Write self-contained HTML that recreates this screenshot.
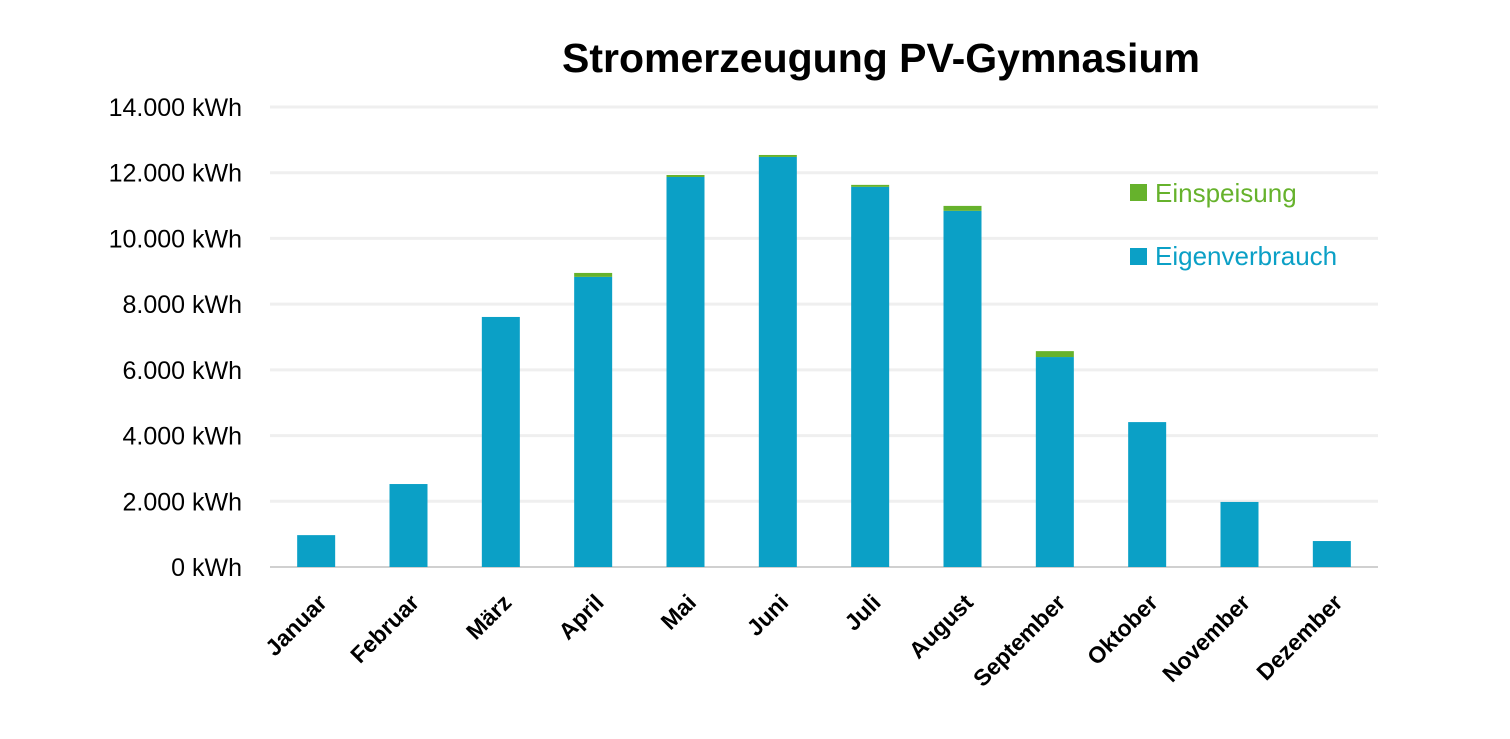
<!DOCTYPE html>
<html><head><meta charset="utf-8"><style>
html,body{margin:0;padding:0;background:#fff;}
svg{display:block;font-family:"Liberation Sans",sans-serif;}
</style></head><body>
<svg id="chart" width="1510" height="739" viewBox="0 0 1510 739">
<text x="881" y="72" text-anchor="middle" font-size="41" font-weight="bold" fill="#000">Stromerzeugung PV-Gymnasium</text>
<g id="grid"></g><g id="bars"></g><g id="xlabels"></g>
<g>
<rect x="1130" y="184" width="17" height="17" fill="#66b22c"/>
<text x="1155" y="202" font-size="26" fill="#66b22c">Einspeisung</text>
<rect x="1130" y="248" width="17" height="17" fill="#0ba0c6"/>
<text x="1155" y="265" font-size="26" fill="#0ba0c6">Eigenverbrauch</text>
</g>
</svg>
<script>
const categories=["Januar","Februar","März","April","Mai","Juni","Juli","August","September","Oktober","November","Dezember"];
const eigenverbrauch=[970,2525,7610,8830,11870,12480,11570,10840,6390,4410,1980,790];
const einspeisung=[0,0,0,120,60,60,60,150,180,0,0,0];
const yTicks=[0,2000,4000,6000,8000,10000,12000,14000];
const yTickLabels=["0 kWh","2.000 kWh","4.000 kWh","6.000 kWh","8.000 kWh","10.000 kWh","12.000 kWh","14.000 kWh"];
const NS="http://www.w3.org/2000/svg";
const x0=270,x1=1378,y0=567,y1=107,yMax=14000;
const y=v=>y0-(v/yMax)*(y0-y1);
const band=(x1-x0)/categories.length;
const xc=i=>x0+band*(i+0.5);
const bw=38;
function mk(t,a,p){const e=document.createElementNS(NS,t);for(const k in a)e.setAttribute(k,a[k]);p.appendChild(e);return e;}
const grid=document.getElementById('grid');
yTicks.forEach((v,i)=>{
  const l=mk('line',{x1:x0,x2:x1,y1:y(v),y2:y(v),stroke:i===0?'#d0d0d0':'#efefef','stroke-width':i===0?2:3},grid);
  
  
  const t=mk('text',{x:242,y:y(v)+9,'text-anchor':'end','font-size':25,fill:'#000'},grid);
  t.textContent=yTickLabels[i];
  
  
});
const bars=document.getElementById('bars');
const xl=document.getElementById('xlabels');
categories.forEach((c,i)=>{
  const cx=xc(i);
  const b=mk('rect',{x:cx-bw/2,y:y(eigenverbrauch[i]),width:bw,height:y0-y(eigenverbrauch[i]),fill:'#0ba0c6'},bars);
  
  
  if(einspeisung[i]>0){
    const tot=eigenverbrauch[i]+einspeisung[i];
    const g=mk('rect',{x:cx-bw/2,y:y(tot),width:bw,height:y(eigenverbrauch[i])-y(tot),fill:'#66b22c'},bars);
    
    
  }
  const t=mk('text',{x:cx+12,y:604,'text-anchor':'end','font-size':23,'font-weight':'bold',fill:'#000',transform:`rotate(-45 ${cx+12} 604)`},xl);
  t.textContent=c;
  
  
});
</script>
</body></html>
